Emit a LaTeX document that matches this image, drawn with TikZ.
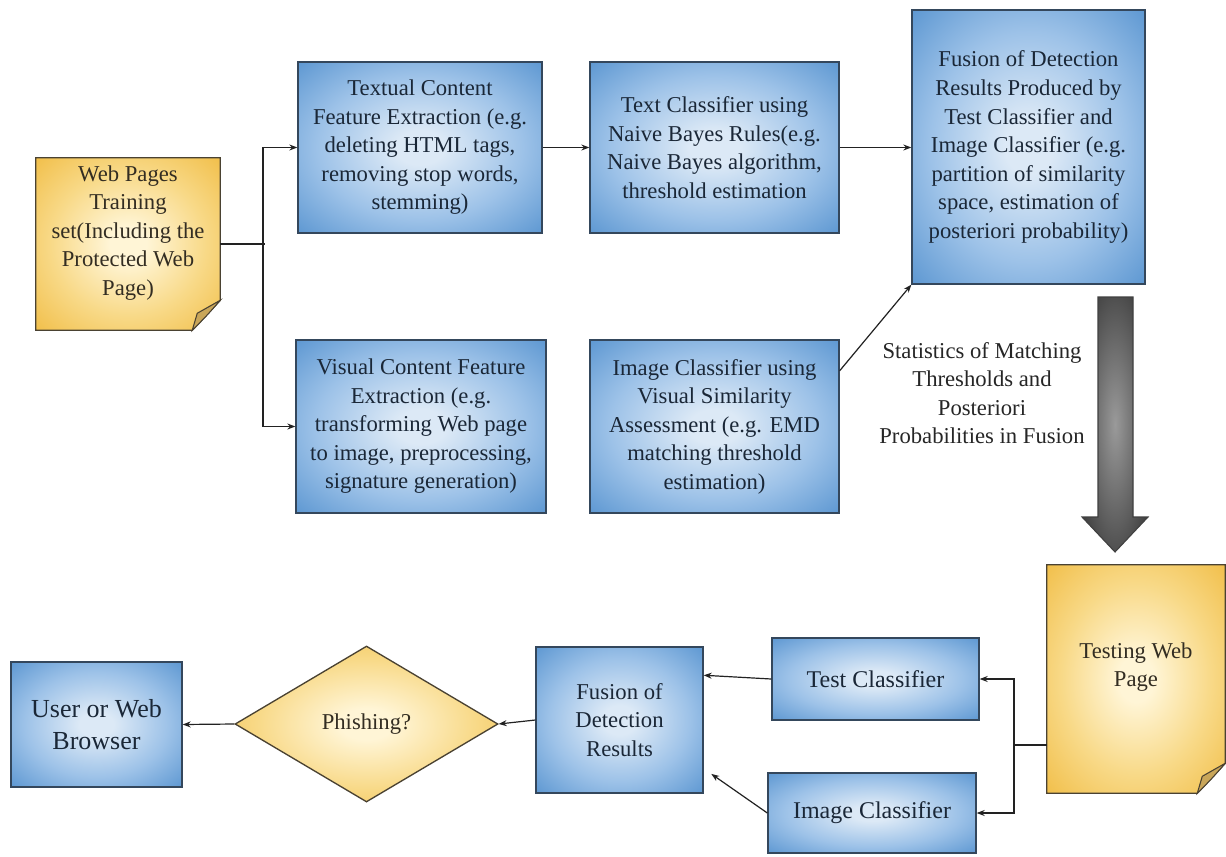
\documentclass[tikz,border=0pt]{standalone}
\usepackage{fontspec}
\setmainfont{Liberation Serif}
\usetikzlibrary{shapes.geometric,arrows.meta,calc}
\definecolor{blueE}{HTML}{5B96D1}
\definecolor{blueM}{HTML}{9DC2E8}
\definecolor{blueC}{HTML}{DCE9F6}
\definecolor{bord}{HTML}{34475C}
\definecolor{yelE}{HTML}{F1BE48}
\definecolor{yelM}{HTML}{F8D987}
\definecolor{yelC}{HTML}{FFF5D6}
\definecolor{ybord}{HTML}{4A4232}
\definecolor{foldc}{HTML}{C9A659}
\definecolor{txt}{HTML}{1A2737}
\definecolor{ytxt}{HTML}{332D22}
\definecolor{connc}{HTML}{222222}
\definecolor{arrD}{HTML}{2E2E2E}
\definecolor{arrL}{HTML}{9A9A9A}
\pgfdeclareradialshading{bluerad}{\pgfpoint{0bp}{0bp}}{color(0bp)=(blueC); color(5bp)=(blueC); color(21bp)=(blueM); color(36bp)=(blueE); color(50bp)=(blueE)}
\pgfdeclareradialshading{yelrad}{\pgfpoint{0bp}{0bp}}{color(0bp)=(yelC); color(5bp)=(yelC); color(21bp)=(yelM); color(36bp)=(yelE); color(50bp)=(yelE)}
\pgfdeclareradialshading{greyrad}{\pgfpoint{0bp}{0bp}}{color(0bp)=(arrL); color(36bp)=(arrD); color(50bp)=(arrD)}
\newcommand\fsA{\fontsize{17}{21.4}\selectfont}
\newcommand\fsB{\fontsize{19.5}{23.8}\selectfont}
\newcommand\fsC{\fontsize{18}{22}\selectfont}
\begin{document}
\begin{tikzpicture}[x=0.75pt,y=-0.75pt,
  bbox/.style={draw=bord, line width=1pt, shading=bluerad,
    align=center, text=txt, inner sep=0pt, font=\fsA},
  ynote/.style={draw=ybord, line width=1pt, shading=yelrad},
  foldst/.style={draw=ybord, line width=0.8pt, fill=foldc},
  yd/.style={draw=ybord, line width=1pt, shading=yelrad,
    align=center, text=ytxt, inner sep=0pt, font=\fsA},
  ytext/.style={align=center, text=ytxt, font=\fsA, inner sep=0pt},
  link/.style={draw=connc, line width=0.9pt},
  arr/.style={link, -{Stealth[length=6pt,width=4.5pt]}},
  lbl/.style={align=center, text=black!85, font=\fsA, inner sep=0pt},
]
\fill[white] (0,0) rectangle (1226,856);
\useasboundingbox (0,0) rectangle (1226,856);

% ---- training note ----
\node[minimum width=138pt, minimum height=129pt, inner sep=0pt] (train) at (128,244) {};
\shade[ynote] (train.north west) -- (train.north east) -- ($(train.south east)+(0,-30)$)
  -- ($(train.south east)+(-28,0)$) -- (train.south west) -- cycle;
\filldraw[foldst] ($(train.south east)+(-28,0)$) .. controls ($(train.south east)+(-26,-8)$) .. ($(train.south east)+(-23,-17)$)
  -- ($(train.south east)+(0,-30)$) .. controls ($(train.south east)+(-14,-14)$) .. cycle;
\node[ytext] (traintxt) at (128,233) {Web Pages\\Training\\set(Including the\\Protected Web\\Page)};

% ---- testing note ----
\node[minimum width=133.5pt, minimum height=171pt, inner sep=0pt] (testing) at (1136,679) {};
\shade[ynote] (testing.north west) -- (testing.north east) -- ($(testing.south east)+(0,-30)$)
  -- ($(testing.south east)+(-28,0)$) -- (testing.south west) -- cycle;
\filldraw[foldst] ($(testing.south east)+(-28,0)$) .. controls ($(testing.south east)+(-26,-8)$) .. ($(testing.south east)+(-23,-17)$)
  -- ($(testing.south east)+(0,-30)$) .. controls ($(testing.south east)+(-14,-14)$) .. cycle;
\node[ytext] (testingtxt) at (1136,667) {Testing Web\\Page};

% ---- top row ----
\node[bbox, minimum width=183pt, minimum height=128.25pt] (textual) at (420,147.5)
  {Textual Content\\Feature Extraction (e.g.\\deleting HTML tags,\\removing stop words,\\stemming)};
\node[bbox, minimum width=186.75pt, minimum height=128.25pt] (textcls) at (714.5,147.5)
  {Text Classifier using\\Naive Bayes Rules(e.g.\\Naive Bayes algorithm,\\threshold estimation};
\node[bbox, minimum width=174.75pt, minimum height=205.5pt] (fusiontop) at (1028.5,147)
  {Fusion of Detection\\Results Produced by\\Test Classifier and\\Image Classifier (e.g.\\partition of similarity\\space, estimation of\\posteriori probability)};
\node[bbox, minimum width=187.5pt, minimum height=129.75pt] (visual) at (421,426.5)
  {Visual Content Feature\\Extraction (e.g.\\transforming Web page\\to image, preprocessing,\\signature generation)};
\node[bbox, minimum width=186.75pt, minimum height=129.75pt] (imgcls) at (714.5,426.5)
  {Image Classifier using\\Visual Similarity\\Assessment (e.g. EMD\\matching threshold\\estimation)};

% ---- bottom row ----
\node[bbox, font=\fsC, minimum width=155.25pt, minimum height=61.5pt] (testcls) at (875.5,679) {Test Classifier};
\node[bbox, font=\fsC, minimum width=156pt, minimum height=60pt] (imgcls2) at (872,813) {Image Classifier};
\node[bbox, minimum width=125.25pt, minimum height=109.5pt] (fusion2) at (619.5,720) {Fusion of\\Detection\\Results};
\node[diamond, yd, minimum width=197.25pt, minimum height=117pt] (phish) at (366.5,724) {Phishing?};
\node[bbox, font=\fsB, minimum width=128.25pt, minimum height=93.75pt] (user) at (96.5,724.5) {User or Web\\Browser};

% ---- big arrow ----
\shade[draw=black!75, line width=0.8pt, shading=greyrad]
  (1098,297) -- (1133,297) -- (1133,517) -- (1148,517) -- (1115,552) -- (1082,517) -- (1098,517) -- cycle;
\node[lbl] (stats) at (982,393) {Statistics of Matching\\Thresholds and\\Posteriori\\Probabilities in Fusion};

% ---- connectors ----
\coordinate (split) at (263,244);
\draw[link] (train.east |- split) -- ($(split)+(2,0)$);
\draw[arr] (split) |- (textual.west);
\draw[arr] (split) |- (visual.west);
\draw[arr] (textual.east) -- (textcls.west);
\draw[arr] (textcls.east) -- (textcls.east -| fusiontop.west);
\draw[arr] (imgcls.24) -- (fusiontop.south west);

\coordinate (split2) at (1014,745);
\draw[link] (testing.west |- split2) -- (split2);
\draw[arr] (split2) |- (testcls.east);
\draw[arr] (split2) |- (imgcls2.east);
\draw[arr] (testcls.west) -- (fusion2.28);
\draw[arr, shorten >=7pt] (imgcls2.west) -- (fusion2.-30);
\draw[arr] (fusion2.west) -- (phish.east);
\draw[arr] (phish.west) -- (user.east);
\end{tikzpicture}
\end{document}
